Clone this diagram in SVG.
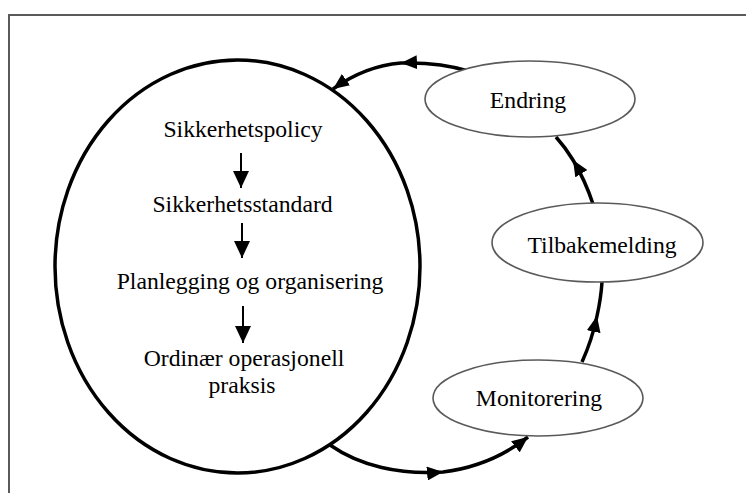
<svg xmlns="http://www.w3.org/2000/svg" width="746" height="493" viewBox="0 0 746 493">
<style>
.frame{fill:none;stroke:#5a5a5a;stroke-width:2}
.big{fill:#fff;stroke:#000;stroke-width:3.5}
.small{fill:#fff;stroke:#5a5a5a;stroke-width:1.6}
.lbl{font-family:"Liberation Serif","Times New Roman",serif;font-size:23.7px;fill:#000;text-anchor:middle}
.conn{fill:none;stroke:#000;stroke-width:3.5}
.inner{fill:none;stroke:#000;stroke-width:2}
</style>
<defs>
<marker id="ah" markerUnits="userSpaceOnUse" markerWidth="18" markerHeight="14" refX="16" refY="7" orient="auto">
<path d="M0,0 L16,7 L0,14 z" fill="#000"/>
</marker>
<marker id="ahs" markerUnits="userSpaceOnUse" markerWidth="18" markerHeight="16" refX="17" refY="8" orient="auto">
<path d="M0,0 L17,8 L0,16 z" fill="#000"/>
</marker>
</defs>
<path class="frame" d="M9,493 L9,15 L746,15"/>
<g id="connectors">
<path class="conn" d="M330,445 C360,466 400,475 443,472 C475,468 505,455 528,437" marker-mid="url(#ah)" marker-end="url(#ah)"/>
<path class="conn" d="M582,362 Q592,340 597,316 Q601,298 602,282" marker-mid="url(#ah)"/>
<path class="conn" d="M593,204 Q585,180 573,160 Q565,147 556,137" marker-mid="url(#ah)"/>
<path class="conn" d="M468,71 Q440,62 401,63 Q365,66 333,89" marker-mid="url(#ah)" marker-end="url(#ah)"/>
</g>
<g id="core">
<ellipse class="big" cx="237.5" cy="266.5" rx="182.5" ry="206.5"/>
<text class="lbl" x="243" y="137">Sikkerhetspolicy</text>
<text class="lbl" x="242.5" y="212">Sikkerhetsstandard</text>
<text class="lbl" x="250" y="289">Planlegging og organisering</text>
<text class="lbl" x="244" y="366">Ordinær operasjonell</text>
<text class="lbl" x="242" y="393">praksis</text>
<path class="inner" d="M241,153 L241,188" marker-end="url(#ahs)"/>
<path class="inner" d="M242,223 L242,258" marker-end="url(#ahs)"/>
<path class="inner" d="M243,306 L243,343" marker-end="url(#ahs)"/>
</g>
<g id="endring">
<ellipse class="small" cx="530" cy="99" rx="105" ry="38"/>
<text class="lbl" x="528" y="108">Endring</text>
</g>
<g id="tilbakemelding">
<ellipse class="small" cx="597.5" cy="242.5" rx="105.5" ry="39.5"/>
<text class="lbl" x="602" y="253">Tilbakemelding</text>
</g>
<g id="monitorering">
<ellipse class="small" cx="538" cy="398" rx="105" ry="38"/>
<text class="lbl" x="539" y="406">Monitorering</text>
</g>
</svg>
